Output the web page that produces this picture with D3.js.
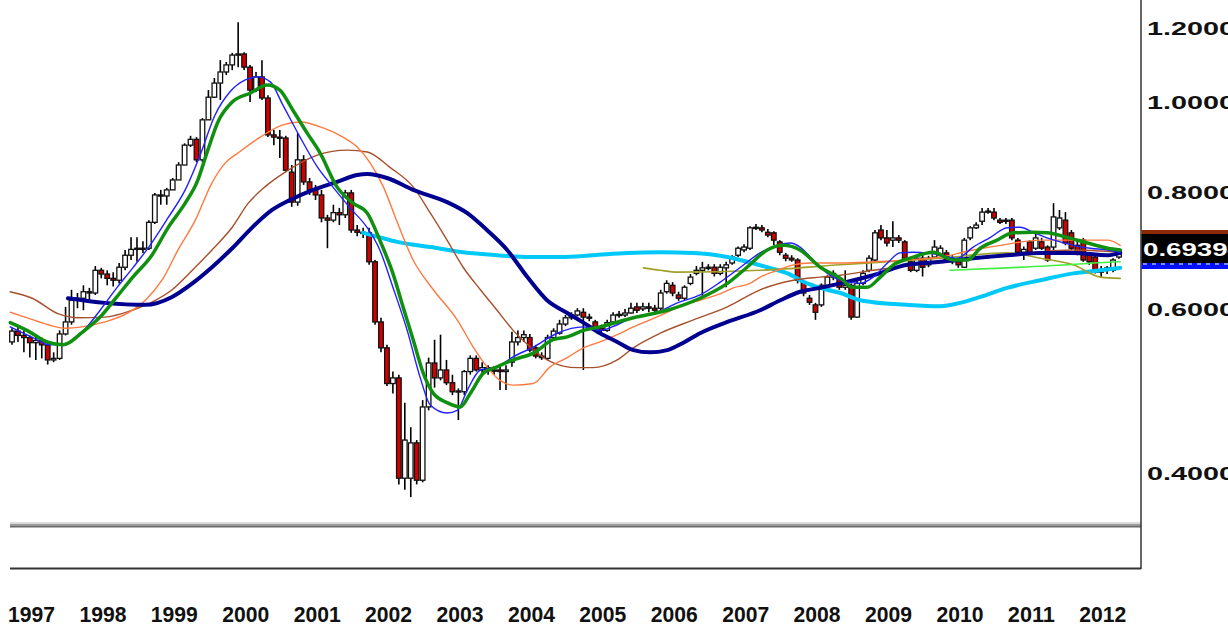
<!DOCTYPE html>
<html><head><meta charset="utf-8">
<script src="https://cdn.jsdelivr.net/npm/d3@7/dist/d3.min.js"></script>
<style>html,body{margin:0;padding:0;background:#fff;}svg{display:block}</style>
</head><body>
<svg id="c" width="1228" height="628"></svg>
<script>
// Monthly candles, Jan 1997 .. Jul 2012 (index = month number)
const opens = [0.553,0.568,0.562,0.559,0.552,0.555,0.549,0.529,0.531,0.564,
0.581,0.613,0.616,0.626,0.624,0.660,0.654,0.647,0.644,0.665,
0.685,0.695,0.695,0.697,0.743,0.795,0.793,0.805,0.825,0.856,
0.899,0.912,0.867,0.957,1.012,1.048,1.077,1.096,1.123,1.126,
1.090,1.030,1.064,1.010,0.922,0.917,0.915,0.841,0.781,0.867,
0.821,0.805,0.795,0.751,0.747,0.761,0.757,0.799,0.729,0.725,
0.724,0.674,0.581,0.545,0.499,0.506,0.395,0.395,0.431,0.393,
0.471,0.525,0.506,0.516,0.500,0.489,0.489,0.514,0.531,0.516,
0.519,0.515,0.516,0.514,0.526,0.553,0.559,0.559,0.545,0.534,
0.531,0.559,0.565,0.578,0.587,0.591,0.595,0.588,0.581,0.572,
0.569,0.581,0.591,0.591,0.594,0.603,0.600,0.603,0.601,0.601,
0.626,0.636,0.621,0.616,0.639,0.655,0.660,0.664,0.665,0.655,
0.664,0.672,0.685,0.694,0.697,0.733,0.733,0.725,0.724,0.708,
0.685,0.680,0.677,0.641,0.616,0.606,0.606,0.636,0.649,0.647,
0.633,0.636,0.588,0.639,0.660,0.677,0.729,0.715,0.711,0.715,
0.708,0.674,0.660,0.680,0.669,0.682,0.685,0.689,0.680,0.674,
0.665,0.715,0.733,0.745,0.762,0.762,0.747,0.745,0.747,0.711,
0.690,0.708,0.697,0.708,0.699,0.699,0.733,0.747,0.724,0.702,
0.711,0.685,0.682,0.660,0.660,0.660,0.682];
const highs = [0.572,0.575,0.569,0.562,0.564,0.559,0.552,0.539,0.569,0.603,
0.629,0.624,0.636,0.632,0.667,0.664,0.660,0.657,0.672,0.694,
0.716,0.716,0.709,0.747,0.799,0.805,0.809,0.829,0.862,0.903,
0.920,0.917,0.961,1.030,1.061,1.109,1.104,1.129,1.218,1.131,
1.096,1.077,1.109,1.017,0.933,0.933,0.920,0.856,0.926,0.877,
0.829,0.815,0.805,0.757,0.776,0.770,0.805,0.805,0.738,0.733,
0.733,0.677,0.587,0.549,0.514,0.510,0.476,0.448,0.434,0.479,
0.532,0.556,0.563,0.529,0.510,0.493,0.516,0.535,0.535,0.526,
0.522,0.521,0.521,0.522,0.567,0.569,0.569,0.564,0.549,0.539,
0.563,0.572,0.584,0.591,0.595,0.601,0.601,0.593,0.584,0.577,
0.584,0.595,0.597,0.600,0.609,0.609,0.609,0.609,0.606,0.629,
0.644,0.641,0.626,0.636,0.654,0.667,0.674,0.670,0.670,0.670,
0.674,0.685,0.700,0.704,0.736,0.740,0.738,0.731,0.727,0.711,
0.689,0.685,0.680,0.644,0.621,0.609,0.639,0.652,0.660,0.652,
0.660,0.639,0.644,0.660,0.685,0.729,0.738,0.729,0.745,0.720,
0.711,0.677,0.685,0.685,0.684,0.711,0.702,0.694,0.685,0.680,
0.715,0.736,0.743,0.770,0.770,0.770,0.751,0.751,0.751,0.715,
0.700,0.711,0.722,0.715,0.702,0.779,0.766,0.762,0.729,0.711,
0.715,0.690,0.687,0.667,0.667,0.680,0.697];
const lows = [0.549,0.553,0.539,0.532,0.529,0.531,0.523,0.526,0.529,0.562,
0.577,0.601,0.598,0.613,0.621,0.647,0.636,0.634,0.639,0.660,
0.677,0.674,0.689,0.694,0.740,0.776,0.776,0.805,0.825,0.856,
0.895,0.862,0.862,0.957,1.010,1.005,1.069,1.082,1.090,1.082,
1.000,1.025,1.005,0.917,0.899,0.871,0.841,0.772,0.774,0.815,
0.795,0.785,0.743,0.697,0.743,0.738,0.751,0.724,0.718,0.715,
0.669,0.577,0.539,0.496,0.487,0.389,0.384,0.377,0.389,0.391,
0.467,0.494,0.503,0.497,0.485,0.456,0.485,0.510,0.514,0.512,
0.510,0.510,0.491,0.491,0.520,0.548,0.553,0.539,0.531,0.529,
0.529,0.556,0.563,0.575,0.584,0.589,0.516,0.582,0.569,0.564,
0.567,0.580,0.587,0.588,0.593,0.594,0.597,0.595,0.594,0.598,
0.623,0.619,0.612,0.613,0.636,0.652,0.618,0.660,0.650,0.652,
0.633,0.669,0.682,0.690,0.694,0.729,0.725,0.716,0.702,0.685,
0.675,0.674,0.639,0.619,0.606,0.584,0.603,0.631,0.644,0.629,
0.629,0.584,0.587,0.636,0.657,0.674,0.711,0.700,0.699,0.706,
0.677,0.657,0.657,0.650,0.665,0.679,0.682,0.674,0.670,0.664,
0.664,0.711,0.731,0.738,0.759,0.747,0.740,0.740,0.711,0.685,
0.677,0.687,0.694,0.694,0.674,0.694,0.729,0.702,0.694,0.685,
0.674,0.669,0.655,0.649,0.654,0.657,0.679];
const closes = [0.568,0.562,0.559,0.552,0.555,0.549,0.529,0.531,0.564,0.581,
0.613,0.616,0.626,0.624,0.660,0.654,0.647,0.644,0.665,0.685,
0.695,0.697,0.697,0.743,0.795,0.793,0.805,0.825,0.856,0.899,
0.912,0.867,0.957,1.012,1.048,1.077,1.096,1.123,1.126,1.090,
1.030,1.064,1.010,0.922,0.917,0.915,0.845,0.781,0.867,0.821,
0.805,0.795,0.751,0.747,0.761,0.757,0.799,0.729,0.725,0.724,
0.674,0.581,0.545,0.499,0.506,0.395,0.434,0.431,0.393,0.471,
0.525,0.506,0.516,0.500,0.489,0.490,0.514,0.531,0.516,0.519,
0.515,0.516,0.514,0.516,0.553,0.559,0.563,0.542,0.534,0.532,
0.559,0.568,0.578,0.587,0.591,0.597,0.588,0.587,0.572,0.569,
0.580,0.591,0.592,0.594,0.601,0.598,0.603,0.601,0.598,0.624,
0.639,0.624,0.616,0.633,0.649,0.660,0.664,0.665,0.655,0.665,
0.669,0.682,0.697,0.699,0.733,0.734,0.729,0.720,0.711,0.690,
0.680,0.677,0.644,0.624,0.610,0.595,0.636,0.649,0.655,0.633,
0.636,0.588,0.639,0.655,0.680,0.724,0.715,0.706,0.715,0.711,
0.680,0.660,0.680,0.665,0.680,0.699,0.697,0.677,0.674,0.669,
0.711,0.733,0.738,0.762,0.764,0.751,0.743,0.747,0.715,0.690,
0.695,0.690,0.715,0.697,0.677,0.753,0.751,0.706,0.697,0.690,
0.677,0.674,0.657,0.657,0.664,0.677,0.69394];

const years = ["1997","1998","1999","2000","2001","2002","2003","2004","2005","2006","2007","2008","2009","2010","2011","2012"];
const priceTicks = [0.4,0.6,0.8,1.0,1.2];
const lastPrice = 0.69394;

// moving averages: [month index, value]
const maBlue = [[-0.3,0.574],[3.5,0.559],[6.4,0.549],[8.6,0.550],[12.6,0.574],[14.8,0.598],[17.6,0.632],[20.3,0.664],[23.2,0.702],[26.2,0.751],[29.1,0.805],[31.6,0.877],[34.1,0.968],[36.6,1.025],[39.2,1.056],[41.3,1.064],[43.4,1.051],[45.5,0.993],[48.4,0.917],[51.3,0.852],[53.9,0.811],[56.8,0.770],[59.7,0.733],[61.8,0.694],[64.0,0.633],[66.4,0.569],[68.6,0.506],[70.3,0.473],[73.1,0.464],[74.8,0.467],[76.5,0.491],[78.7,0.516],[81.5,0.520],[84.2,0.533],[87.6,0.546],[91.6,0.565],[96.0,0.574],[98.8,0.569],[101.7,0.577],[104.4,0.588],[108.4,0.595],[111.8,0.609],[115.6,0.621],[119.0,0.641],[122.4,0.665],[125.7,0.689],[128.6,0.702],[130.8,0.706],[132.4,0.699],[134.6,0.677],[137.0,0.655],[139.2,0.644],[142.5,0.639],[144.7,0.649],[147.1,0.672],[149.2,0.689],[151.4,0.690],[153.8,0.689],[156.0,0.685],[158.8,0.680],[161.5,0.699],[164.4,0.716],[167.2,0.733],[169.4,0.734],[171.6,0.725],[173.9,0.715],[176.1,0.708],[178.3,0.702],[181.2,0.697],[184.1,0.694],[186.2,0.690]];
const maGreen = [[-0.3,0.580],[2.5,0.569],[5.9,0.553],[8.6,0.549],[11.9,0.567],[14.8,0.588],[17.6,0.618],[20.3,0.649],[23.5,0.685],[26.2,0.733],[29.1,0.779],[31.1,0.821],[32.9,0.888],[34.6,0.952],[37.0,1.000],[40.0,1.022],[42.9,1.043],[45.0,1.030],[47.2,0.980],[49.6,0.926],[51.8,0.881],[54.6,0.811],[57.3,0.779],[59.7,0.760],[61.8,0.711],[64.0,0.655],[65.7,0.603],[67.4,0.556],[69.1,0.512],[70.8,0.487],[73.1,0.476],[75.3,0.471],[77.0,0.487],[79.2,0.512],[81.5,0.520],[84.2,0.529],[87.6,0.538],[90.9,0.556],[93.3,0.560],[96.0,0.569],[98.8,0.574],[104.4,0.587],[110.1,0.598],[115.6,0.616],[120.2,0.639],[123.5,0.665],[126.9,0.694],[129.6,0.702],[132.4,0.694],[135.8,0.665],[139.2,0.647],[141.3,0.633],[143.7,0.633],[145.9,0.649],[148.1,0.669],[150.9,0.680],[154.8,0.690],[158.2,0.677],[160.5,0.677],[162.7,0.697],[165.5,0.711],[168.2,0.724],[171.6,0.725],[173.9,0.724],[177.3,0.716],[180.7,0.706],[184.1,0.697],[186.2,0.694]];
const maOrange = [[-0.3,0.595],[2.2,0.588],[6.1,0.577],[8.9,0.572],[11.8,0.574],[15.6,0.581],[19.5,0.594],[22.4,0.613],[25.2,0.644],[27.9,0.694],[30.8,0.747],[33.6,0.819],[35.8,0.860],[38.0,0.882],[41.7,0.917],[45.5,0.945],[48.4,0.952],[52.3,0.938],[55.6,0.917],[58.0,0.895],[60.2,0.860],[62.4,0.811],[64.7,0.744],[67.4,0.677],[70.8,0.629],[74.8,0.584],[77.5,0.546],[79.8,0.520],[82.0,0.503],[84.2,0.497],[87.6,0.499],[90.4,0.520],[93.3,0.532],[96.0,0.545],[98.8,0.553],[101.7,0.563],[104.4,0.574],[107.2,0.584],[110.1,0.595],[112.8,0.606],[115.6,0.613],[118.5,0.621],[121.2,0.632],[124.0,0.639],[125.7,0.649],[128.6,0.660],[131.3,0.669],[134.1,0.672],[139.2,0.672],[144.7,0.674],[150.4,0.677],[156.0,0.682],[161.5,0.694],[166.1,0.702],[172.8,0.711],[178.3,0.711],[184.1,0.711],[186.2,0.702]];
const maBrown = [[-0.3,0.626],[3.4,0.616],[7.7,0.593],[11.1,0.587],[15.6,0.588],[20.2,0.598],[23.5,0.610],[26.9,0.629],[30.3,0.660],[33.6,0.694],[37.0,0.734],[39.7,0.779],[42.5,0.811],[45.9,0.841],[51.3,0.877],[56.3,0.888],[59.7,0.884],[63.5,0.851],[67.4,0.811],[70.3,0.760],[73.1,0.711],[75.8,0.665],[78.7,0.629],[81.5,0.598],[84.2,0.569],[87.1,0.546],[89.9,0.529],[92.6,0.521],[95.0,0.519],[97.6,0.519],[101.7,0.529],[104.4,0.545],[108.9,0.565],[114.5,0.584],[120.2,0.603],[125.7,0.629],[131.3,0.644],[135.8,0.649],[139.2,0.652],[144.7,0.660],[150.4,0.667],[156.0,0.674],[167.2,0.685],[178.3,0.694],[186.2,0.690]];
const maNavy = [[9.4,0.616],[15.6,0.609],[22.4,0.606],[26.9,0.618],[30.3,0.639],[33.6,0.665],[37.0,0.697],[40.3,0.733],[43.7,0.766],[46.7,0.785],[50.6,0.805],[54.6,0.821],[58.0,0.835],[59.7,0.837],[63.0,0.829],[67.4,0.805],[73.1,0.781],[76.5,0.760],[79.8,0.729],[83.2,0.694],[86.6,0.649],[89.9,0.613],[93.3,0.594],[96.0,0.580],[98.8,0.565],[101.7,0.553],[104.4,0.542],[107.2,0.539],[110.1,0.542],[112.8,0.552],[115.6,0.565],[120.2,0.581],[125.7,0.598],[129.1,0.613],[132.4,0.626],[135.8,0.632],[139.2,0.639],[144.7,0.652],[150.4,0.669],[156.0,0.674],[161.5,0.680],[167.2,0.685],[172.8,0.689],[178.3,0.689],[184.1,0.685],[186.2,0.689]];
const maCyan = [[59.0,0.724],[61.8,0.716],[64.7,0.708],[70.3,0.699],[75.8,0.690],[81.5,0.685],[87.1,0.682],[92.1,0.682],[97.6,0.685],[103.4,0.689],[108.9,0.690],[114.5,0.689],[120.2,0.682],[123.5,0.674],[126.9,0.665],[130.3,0.655],[133.6,0.639],[137.0,0.629],[139.2,0.624],[142.5,0.613],[144.7,0.610],[150.4,0.606],[156.0,0.604],[159.3,0.609],[162.7,0.618],[167.2,0.632],[172.8,0.644],[178.3,0.655],[182.9,0.660],[186.2,0.664]];
const maOlive = [[106.1,0.664],[108.9,0.660],[111.8,0.657],[125.7,0.660],[139.2,0.669],[156.0,0.680],[167.2,0.689],[172.8,0.680],[178.3,0.669],[182.9,0.649],[186.2,0.647]];
const maLime = [[157.6,0.660],[167.2,0.664],[177.3,0.669],[181.7,0.672],[186.2,0.674]];

const svg = d3.select('#c');
svg.append('rect').attr('width',1228).attr('height',628).attr('fill','#fff');

const x = d3.scaleLinear().domain([0, 186]).range([12, 1119]);
const y = d3.scaleLog().domain([0.4, 1.2]).range([473.1, 28.2]);
const idx = d3.range(closes.length);

// candles
const cg = svg.append('g');
cg.selectAll('line.w').data(idx).join('line').attr('class','w')
  .attr('x1', i => x(i)).attr('x2', i => x(i))
  .attr('y1', i => y(highs[i])).attr('y2', i => y(lows[i]))
  .attr('stroke', '#000').attr('stroke-width', 1.6);
cg.selectAll('rect.b').data(idx).join('rect').attr('class','b')
  .attr('x', i => x(i) - 2.3).attr('width', 4.6)
  .attr('y', i => y(Math.max(opens[i], closes[i])))
  .attr('height', i => Math.max(1.2, Math.abs(y(opens[i]) - y(closes[i]))))
  .attr('fill', i => closes[i] >= opens[i] ? '#ffffff' : '#d00000')
  .attr('stroke', '#111').attr('stroke-width', 1.3);

// moving averages
const line = d3.line().x(d => x(d[0])).y(d => y(d[1])).curve(d3.curveMonotoneX);
const series = [
  {d: maCyan, c: '#00c8f8', w: 4},
  {d: maOlive, c: '#a0a028', w: 1.6},
  {d: maLime, c: '#40f040', w: 1.6},
  {d: maBrown, c: '#a8502c', w: 1.4},
  {d: maOrange, c: '#ff7a40', w: 1.4},
  {d: maNavy, c: '#000090', w: 4},
  {d: maBlue, c: '#2020ff', w: 1.4},
  {d: maGreen, c: '#109010', w: 3.5}
];
svg.append('g').selectAll('path').data(series).join('path')
  .attr('d', s => line(s.d)).attr('fill', 'none')
  .attr('stroke', s => s.c).attr('stroke-width', s => s.w)
  .attr('stroke-linejoin', 'round').attr('stroke-linecap', 'round');

// separator and lower pane
svg.append('rect').attr('x', 10).attr('y', 522).attr('width', 1131).attr('height', 2).attr('fill', '#dcdcdc');
svg.append('rect').attr('x', 10).attr('y', 524).attr('width', 1131).attr('height', 2).attr('fill', '#9a9a9a');
svg.append('rect').attr('x', 10).attr('y', 526).attr('width', 1131).attr('height', 1.5).attr('fill', '#6a6a6a');
svg.append('line').attr('x1', 10).attr('x2', 1141).attr('y1', 568.5).attr('y2', 568.5).attr('stroke', '#333').attr('stroke-width', 2);
svg.append('line').attr('x1', 1141).attr('x2', 1141).attr('y1', 0).attr('y2', 569).attr('stroke', '#333').attr('stroke-width', 1.5);

// price axis labels
svg.append('g').selectAll('text').data(priceTicks).join('text')
  .attr('x', 1147).attr('y', d => y(d)).attr('dy', '0.36em')
  .attr('font-family', "'Liberation Sans', Arial, sans-serif").attr('font-weight', 'bold')
  .attr('font-size', 19).attr('fill', '#111')
  .attr('textLength', 88).attr('lengthAdjust', 'spacingAndGlyphs')
  .text(d => d3.format('.4f')(d));

// last price marker
const ly = y(lastPrice);
svg.append('rect').attr('x', 1141.5).attr('y', ly - 20).attr('width', 90).attr('height', 4).attr('fill', '#8b2a00');
svg.append('rect').attr('x', 1141.5).attr('y', ly - 16).attr('width', 90).attr('height', 29).attr('fill', '#000');
svg.append('rect').attr('x', 1141.5).attr('y', ly + 13).attr('width', 90).attr('height', 6).attr('fill', '#0010ff');
svg.append('line').attr('x1', 1143).attr('x2', 1228).attr('y1', ly + 14).attr('y2', ly + 14)
  .attr('stroke', '#fff').attr('stroke-width', 1).attr('stroke-dasharray', '4,5');
svg.append('text').attr('x', 1143).attr('y', ly - 1).attr('dy', '0.36em')
  .attr('font-family', "'Liberation Sans', Arial, sans-serif").attr('font-weight', 'bold')
  .attr('font-size', 19).attr('fill', '#fff')
  .attr('textLength', 100).attr('lengthAdjust', 'spacingAndGlyphs')
  .text(d3.format('.5f')(lastPrice));

// year labels
svg.append('g').selectAll('text').data(years).join('text')
  .attr('x', (d, i) => x(i * 12) - 4).attr('y', 614).attr('dy', '0.36em')
  .attr('font-family', "'Liberation Sans', Arial, sans-serif").attr('font-weight', 'bold')
  .attr('font-size', 22).attr('fill', '#111')
  .attr('textLength', 47).attr('lengthAdjust', 'spacingAndGlyphs')
  .text(d => d);
</script>
</body></html>
